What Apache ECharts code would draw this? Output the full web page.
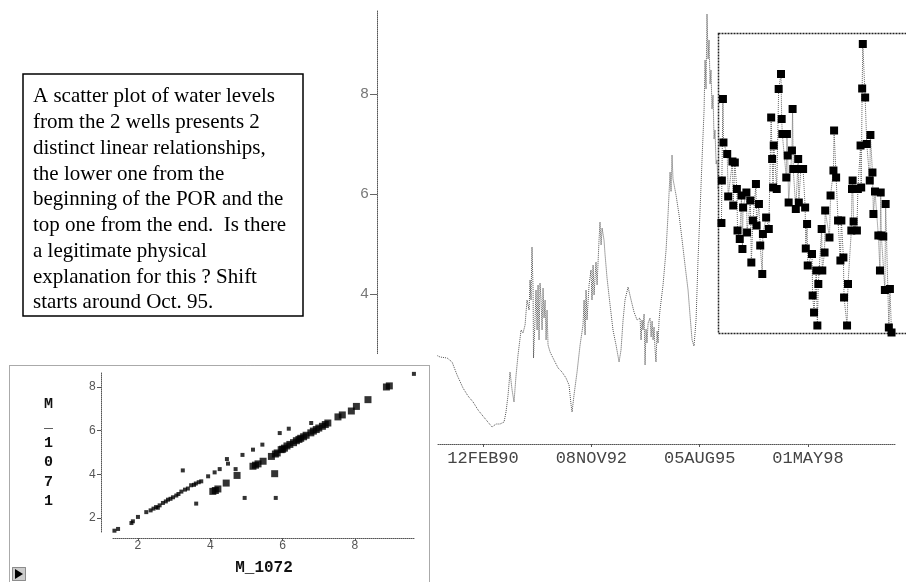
<!DOCTYPE html>
<html>
<head>
<meta charset="utf-8">
<script src="https://cdn.jsdelivr.net/npm/echarts@6/dist/echarts.min.js"></script>
<style>
  html, body { margin: 0; padding: 0; background: #fff; }
  #chart { width: 906px; height: 582px; }
</style>
</head>
<body>
<div id="chart"></div>
<script>
// Dates are SAS day numbers (days since 01JAN1960); 11000 = 12FEB90.
const dateTickDays = [11000, 12000, 13000, 14000];
const levelTicks = [2, 4, 6, 8];
const scatterTicks = [2, 4, 6, 8];

// Water level of well M_1072 over the period of record
const mainDays = [10529, 10603, 10668, 10714, 10760, 10815, 10861, 10908, 10954, 10991,
  11037, 11083, 11120, 11157, 11194, 11212, 11231, 11249, 11268, 11286,
  11305, 11323, 11351, 11369, 11388, 11406, 11425, 11434, 11443, 11452,
  11462, 11466, 11480, 11489, 11499, 11508, 11517, 11526, 11536, 11545,
  11554, 11563, 11573, 11582, 11591, 11600, 11619, 11646, 11693, 11729,
  11766, 11794, 11813, 11822, 11840, 11868, 11896, 11923, 11933, 11942,
  11951, 11960, 11979, 11997, 12006, 12016, 12025, 12043, 12053, 12071,
  12080, 12090, 12099, 12117, 12127, 12145, 12173, 12200, 12228, 12256,
  12274, 12293, 12311, 12339, 12367, 12394, 12422, 12450, 12459, 12468,
  12477, 12487, 12496, 12505, 12514, 12524, 12542, 12552, 12561, 12570,
  12579, 12588, 12597, 12607, 12616, 12625, 12634, 12662, 12690, 12708,
  12727, 12736, 12745, 12754, 12764, 12782, 12810, 12838, 12865, 12893,
  12911, 12930, 12948, 12967, 12985, 13004, 13022, 13041, 13050, 13059,
  13068, 13078, 13087, 13096, 13105, 13114, 13124, 13133, 13142, 13152,
  13161, 13170, 13179];
const mainLevels = [2.82, 2.74, 2.72, 2.64, 2.38, 2.12, 1.96, 1.84, 1.68, 1.58,
  1.46, 1.34, 1.40, 1.40, 1.44, 1.64, 1.98, 2.44, 2.08, 1.84,
  2.38, 2.78, 3.28, 3.22, 3.38, 3.88, 3.68, 4.28, 3.88, 4.94,
  4.08, 2.72, 3.48, 4.08, 3.28, 4.18, 3.08, 4.22, 3.88, 3.28,
  4.12, 3.52, 3.88, 3.08, 3.68, 2.98, 2.84, 2.72, 2.52, 2.44,
  2.32, 2.18, 1.78, 1.64, 1.98, 2.44, 2.98, 3.38, 3.88, 3.18,
  4.08, 3.48, 4.18, 4.48, 3.88, 4.58, 3.98, 4.64, 4.18, 5.08,
  5.44, 4.98, 5.32, 5.08, 4.78, 4.32, 3.78, 3.28, 2.98, 2.64,
  2.88, 3.48, 3.88, 4.14, 3.88, 3.64, 3.48, 3.52, 3.08, 3.48,
  3.28, 3.60, 2.58, 3.30, 3.02, 3.42, 3.52, 3.14, 3.46, 3.08,
  3.34, 2.90, 2.64, 3.26, 3.02, 3.46, 3.68, 4.18, 4.88, 5.58,
  6.44, 6.05, 6.78, 6.30, 6.28, 5.98, 5.58, 5.08, 4.58, 4.08,
  3.58, 3.08, 2.96, 3.48, 4.68, 5.68, 6.68, 7.68, 8.68, 8.10,
  9.60, 8.70, 9.08, 8.20, 8.48, 7.70, 7.98, 7.10, 7.28, 6.60,
  6.68, 6.10, 6.28];

// Selected observations after the shift (highlighted window)
const insetDays = [13202, 13206, 13216, 13221, 13256, 13265, 13305, 13312, 13327, 13346,
  13352, 13373, 13389, 13398, 13404, 13435, 13441, 13472, 13481, 13496,
  13524, 13530, 13552, 13564, 13583, 13589, 13619, 13644, 13666, 13675,
  13684, 13690, 13718, 13736, 13758, 13764, 13770, 13807, 13813, 13820,
  13829, 13860, 13866, 13872, 13896, 13918, 13924, 13943, 13964, 13983,
  13989, 14001, 14007, 14047, 14053, 14066, 14087, 14097, 14106, 14137,
  14143, 14164, 14170, 14210, 14220, 14247, 14253, 14272, 14290, 14312,
  14321, 14340, 14346, 14374, 14383, 14414, 14420, 14426, 14435, 14466,
  14475, 14500, 14506, 14515, 14521, 14543, 14558, 14586, 14592, 14611,
  14620, 14635, 14666, 14681, 14688, 14694, 14712, 14727, 14734, 14764,
  14774, 14789];
const insetLevels = [5.40, 6.25, 7.88, 7.01, 6.78, 5.93, 6.63, 5.75, 6.61, 6.08,
  5.25, 5.08, 5.95, 4.88, 5.71, 6.01, 5.21, 5.85, 4.61, 5.45,
  6.18, 5.35, 5.78, 4.95, 4.38, 5.18, 5.51, 5.28, 7.51, 6.68,
  6.11, 6.95, 6.08, 8.08, 8.38, 7.48, 7.18, 6.31, 7.18, 6.75,
  5.81, 6.85, 7.68, 6.48, 5.68, 6.68, 5.81, 6.48, 6.48, 5.71,
  4.89, 5.38, 4.55, 4.78, 3.95, 3.61, 4.45, 3.35, 4.18, 5.28,
  4.45, 4.81, 5.65, 5.11, 5.95, 6.45, 7.25, 6.31, 5.45, 4.65,
  5.45, 4.71, 3.91, 3.35, 4.18, 5.25, 6.08, 6.25, 5.43, 5.25,
  6.08, 6.95, 6.11, 8.09, 8.98, 7.91, 6.98, 6.25, 7.16, 6.41,
  5.58, 6.03, 5.15, 4.45, 6.01, 5.15, 5.13, 4.06, 5.78, 3.31,
  4.08, 3.21];

// M_1071 against M_1072: unselected observations
const earlyM1072 = [1.35, 1.45, 1.82, 1.86, 2.00, 2.23, 2.35, 2.43, 2.50, 2.55,
  2.60, 2.69, 2.77, 2.83, 2.90, 2.97, 3.06, 3.12, 3.20, 3.30,
  3.38, 3.47, 3.55, 3.60, 3.68, 3.75, 3.94, 4.12, 4.26, 3.24,
  3.61, 4.46, 4.49, 4.70, 4.89, 4.95, 5.18, 5.44, 5.92, 6.17,
  5.81, 6.79, 9.63];
const earlyM1071 = [1.42, 1.50, 1.77, 1.85, 2.05, 2.27, 2.35, 2.43, 2.50, 2.47,
  2.58, 2.69, 2.76, 2.84, 2.88, 2.95, 3.03, 3.10, 3.21, 3.30,
  3.35, 3.50, 3.52, 3.58, 3.64, 3.68, 3.91, 4.09, 4.24, 4.18,
  2.66, 4.70, 4.49, 4.24, 4.89, 2.92, 5.13, 5.36, 5.89, 6.09,
  2.92, 6.35, 8.60];
// M_1071 against M_1072: selected observations
const lateM1072 = [4.07, 4.14, 4.21, 4.44, 4.74, 5.78, 5.18, 5.25, 5.32, 5.46,
  5.69, 5.80, 5.85, 5.96, 6.00, 6.05, 6.12, 6.20, 6.30, 6.38,
  6.45, 6.50, 6.58, 6.65, 6.78, 6.85, 6.93, 7.00, 7.10, 7.18,
  7.25, 7.53, 7.65, 7.90, 8.04, 8.36, 8.87, 8.95];
const lateM1071 = [3.22, 3.26, 3.33, 3.60, 3.95, 4.03, 4.37, 4.42, 4.48, 4.60,
  4.82, 4.93, 4.98, 5.13, 5.15, 5.20, 5.30, 5.37, 5.45, 5.54,
  5.60, 5.65, 5.72, 5.79, 5.90, 5.98, 6.05, 6.12, 6.20, 6.28,
  6.35, 6.63, 6.72, 6.90, 7.11, 7.42, 8.00, 8.05];

const noteLines = [
  'A scatter plot of water levels',
  'from the 2 wells presents 2',
  'distinct linear relationships,',
  'the lower one from the',
  'beginning of the POR and the',
  'top one from the end.  Is there',
  'a legitimate physical',
  'explanation for this ? Shift',
  'starts around Oct. 95.'
];

const MONTHS = ['JAN','FEB','MAR','APR','MAY','JUN','JUL','AUG','SEP','OCT','NOV','DEC'];
function sasDate7(v) {
  const d = new Date(Date.UTC(1960, 0, 1) + Math.round(v) * 86400000);
  const dd = String(d.getUTCDate()).padStart(2, '0');
  const yy = String(d.getUTCFullYear() % 100).padStart(2, '0');
  return dd + MONTHS[d.getUTCMonth()] + yy;
}
const zip = (a, b) => a.map((v, i) => [v, b[i]]);

const dotLine = { color: '#555', width: 1, type: [1, 1] };
const mono = '"Liberation Mono", monospace';

const chart = echarts.init(document.getElementById('chart'), null, { renderer: 'canvas' });
chart.setOption({
  animation: false,
  backgroundColor: '#fff',
  grid: [
    { left: 438, top: 10, width: 457, height: 434 },
    { left: 718, top: 33, width: 190, height: 300 },
    { left: 113, top: 373, width: 302, height: 159 }
  ],
  xAxis: [
    {
      gridIndex: 0, type: 'value', min: 10584, max: 14804,
      axisLine: { lineStyle: dotLine },
      splitLine: { show: false },
      axisTick: { customValues: dateTickDays, length: 3, lineStyle: { color: '#555' } },
      axisLabel: {
        customValues: dateTickDays, margin: 6, formatter: sasDate7,
        fontFamily: mono, fontSize: 17, color: '#444'
      }
    },
    { gridIndex: 1, type: 'value', min: 13170, max: 14924, show: false },
    {
      gridIndex: 2, type: 'value', min: 1.31, max: 9.66, offset: 6, z: 20,
      name: 'M_1072', nameLocation: 'middle', nameGap: 22,
      nameTextStyle: { fontFamily: mono, fontWeight: 'bold', fontSize: 16, color: '#111' },
      axisLine: { lineStyle: dotLine },
      splitLine: { show: false },
      axisTick: { customValues: scatterTicks, length: 3, lineStyle: { color: '#555' } },
      axisLabel: { customValues: scatterTicks, margin: 2, fontFamily: mono, fontSize: 12, color: '#555' }
    }
  ],
  yAxis: [
    {
      gridIndex: 0, type: 'value', min: 1.0, max: 9.68, offset: 61,
      axisLine: { show: true, lineStyle: dotLine },
      splitLine: { show: false },
      axisTick: { show: true, customValues: levelTicks, length: 7, lineStyle: { color: '#666' } },
      axisLabel: { customValues: levelTicks, margin: 8, fontFamily: mono, fontSize: 15, color: '#777' }
    },
    { gridIndex: 1, type: 'value', min: 3.2, max: 9.2, show: false },
    {
      gridIndex: 2, type: 'value', min: 1.36, max: 8.64, offset: 12, z: 20,
      name: 'M\n_\n1\n0\n7\n1', nameLocation: 'middle', nameRotate: 0, nameGap: 48,
      nameTextStyle: { fontFamily: mono, fontWeight: 'bold', fontSize: 15, lineHeight: 19.5, color: '#111' },
      axisLine: { show: true, lineStyle: dotLine },
      splitLine: { show: false },
      axisTick: { show: true, customValues: scatterTicks, length: 4, lineStyle: { color: '#555' } },
      axisLabel: { customValues: scatterTicks, margin: 5, fontFamily: mono, fontSize: 12, color: '#555' }
    }
  ],
  graphic: [
    // comment box
    { type: 'rect', z: 1, shape: { x: 23, y: 74, width: 280, height: 242 },
      style: { fill: '#fff', stroke: '#000', lineWidth: 1.5 } },
    { type: 'text', z: 1, style: { text: noteLines.join('\n'), x: 33, y: 84,
      font: '21px "Liberation Serif", serif', lineHeight: 25.75, fill: '#000' } },
    // highlighted window background and frame
    { type: 'rect', z: 3, shape: { x: 718.5, y: 33.5, width: 190, height: 300 },
      style: { fill: '#fff', stroke: '#222', lineWidth: 1.5, lineDash: [2, 1] } },
    // scatter panel background and frame
    { type: 'rect', z: 10, shape: { x: 9, y: 354, width: 421, height: 230 },
      style: { fill: '#fff' } },
    { type: 'rect', z: 11, shape: { x: 9.5, y: 365.5, width: 420, height: 240 },
      style: { fill: 'none', stroke: '#555', lineWidth: 1, lineDash: [1, 1] } },
    { type: 'rect', z: 30, shape: { x: 12.5, y: 567.5, width: 13, height: 13 },
      style: { fill: '#ccc', stroke: '#333', lineWidth: 1, lineDash: [1, 1] } },
    { type: 'polygon', z: 31, shape: { points: [[15, 569], [23, 574], [15, 579]] },
      style: { fill: '#000' } }
  ],
  series: [
    {
      type: 'line', xAxisIndex: 0, yAxisIndex: 0, z: 2,
      data: zip(mainDays, mainLevels), showSymbol: false, symbol: 'none',
      lineStyle: { color: '#555', width: 1, type: [1, 1] }
    },
    {
      type: 'line', xAxisIndex: 1, yAxisIndex: 1, z: 4, clip: false,
      data: zip(insetDays, insetLevels), symbol: 'rect', symbolSize: 8, showSymbol: true,
      itemStyle: { color: '#000' },
      lineStyle: { color: '#666', width: 1, type: [1, 1] }
    },
    {
      type: 'scatter', xAxisIndex: 2, yAxisIndex: 2, z: 21,
      data: zip(earlyM1072, earlyM1071), symbol: 'rect', symbolSize: 4,
      itemStyle: { color: '#000' }
    },
    {
      type: 'scatter', xAxisIndex: 2, yAxisIndex: 2, z: 21,
      data: zip(lateM1072, lateM1071), symbol: 'rect', symbolSize: 7,
      itemStyle: { color: '#000' }
    }
  ]
});
</script>
</body>
</html>
